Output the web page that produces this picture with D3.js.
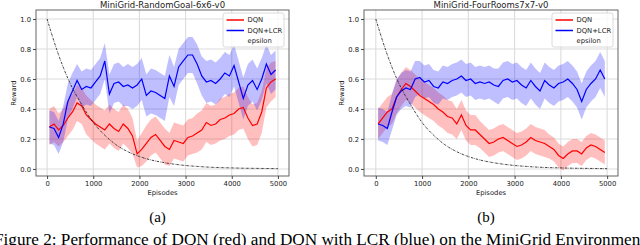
<!DOCTYPE html>
<html>
<head>
<meta charset="utf-8">
<script src="https://cdn.jsdelivr.net/npm/d3@7"></script>
<style>
  html, body { margin: 0; padding: 0; background: #fff; overflow: hidden; }
  svg { display: block; }
  text { font-family: "DejaVu Sans", sans-serif; fill: #222; }
  .serif { font-family: "Liberation Serif", "Times New Roman", serif; fill: #000; }
</style>
</head>
<body>
<div id="chart"></div>
<script>
// episodes at which the smoothed rewards are read
const episodes = [50, 150, 250, 350, 450, 550, 650, 750, 850, 950,
  1050, 1150, 1250, 1350, 1450, 1550, 1650, 1750, 1850, 1950,
  2050, 2150, 2250, 2350, 2450, 2550, 2650, 2750, 2850, 2950,
  3050, 3150, 3250, 3350, 3450, 3550, 3650, 3750, 3850, 3950,
  4050, 4150, 4250, 4350, 4450, 4550, 4650, 4750, 4850, 4950]

// (a) RandomGoal-6x6
const goalDqn = [0.28, 0.30, 0.26, 0.29, 0.34, 0.38, 0.44, 0.42, 0.36, 0.33,
  0.30, 0.28, 0.26, 0.30, 0.27, 0.25, 0.30, 0.27, 0.22, 0.10,
  0.13, 0.17, 0.21, 0.23, 0.19, 0.15, 0.13, 0.19, 0.18, 0.17,
  0.21, 0.22, 0.24, 0.26, 0.31, 0.29, 0.30, 0.33, 0.34, 0.36,
  0.37, 0.40, 0.41, 0.34, 0.29, 0.30, 0.38, 0.54, 0.58, 0.60]
const goalDqnSpread = [0.12, 0.12, 0.11, 0.11, 0.12, 0.12, 0.12, 0.12, 0.13, 0.13,
  0.13, 0.13, 0.13, 0.13, 0.13, 0.13, 0.13, 0.13, 0.12, 0.09,
  0.11, 0.12, 0.12, 0.12, 0.12, 0.12, 0.11, 0.12, 0.12, 0.12,
  0.12, 0.12, 0.13, 0.13, 0.13, 0.13, 0.13, 0.14, 0.14, 0.14,
  0.14, 0.14, 0.14, 0.14, 0.14, 0.14, 0.14, 0.13, 0.13, 0.12]
const goalLcr = [0.28, 0.27, 0.21, 0.30, 0.45, 0.52, 0.59, 0.53, 0.55, 0.54,
  0.58, 0.62, 0.72, 0.50, 0.57, 0.58, 0.55, 0.56, 0.54, 0.56,
  0.60, 0.49, 0.52, 0.51, 0.49, 0.47, 0.62, 0.55, 0.68, 0.72,
  0.76, 0.76, 0.70, 0.62, 0.58, 0.59, 0.57, 0.60, 0.64, 0.62,
  0.69, 0.58, 0.47, 0.56, 0.59, 0.53, 0.60, 0.70, 0.63, 0.66]
const goalLcrSpread = [0.11, 0.11, 0.11, 0.12, 0.12, 0.12, 0.11, 0.12, 0.12, 0.12,
  0.12, 0.12, 0.12, 0.13, 0.13, 0.13, 0.13, 0.14, 0.14, 0.14,
  0.14, 0.14, 0.15, 0.15, 0.15, 0.15, 0.14, 0.13, 0.12, 0.12,
  0.12, 0.12, 0.13, 0.13, 0.14, 0.14, 0.14, 0.14, 0.14, 0.14,
  0.14, 0.14, 0.14, 0.14, 0.14, 0.14, 0.14, 0.13, 0.13, 0.13]

// (b) FourRooms7x7
const roomsDqn = [0.30, 0.34, 0.38, 0.40, 0.48, 0.53, 0.57, 0.55, 0.52, 0.49,
  0.47, 0.45, 0.43, 0.40, 0.38, 0.35, 0.34, 0.30, 0.36, 0.29,
  0.26, 0.26, 0.23, 0.20, 0.17, 0.18, 0.20, 0.21, 0.19, 0.17,
  0.15, 0.16, 0.18, 0.21, 0.19, 0.18, 0.17, 0.15, 0.13, 0.09,
  0.07, 0.10, 0.12, 0.12, 0.10, 0.14, 0.16, 0.15, 0.13, 0.11]
const roomsDqnSpread = [0.10, 0.10, 0.10, 0.10, 0.11, 0.11, 0.11, 0.11, 0.11, 0.11,
  0.11, 0.11, 0.11, 0.11, 0.11, 0.11, 0.11, 0.10, 0.10, 0.10,
  0.10, 0.10, 0.09, 0.09, 0.09, 0.09, 0.09, 0.09, 0.09, 0.09,
  0.09, 0.09, 0.09, 0.09, 0.09, 0.09, 0.09, 0.08, 0.08, 0.08,
  0.08, 0.08, 0.08, 0.08, 0.08, 0.08, 0.08, 0.08, 0.08, 0.08]
const roomsLcr = [0.30, 0.29, 0.27, 0.38, 0.48, 0.52, 0.54, 0.53, 0.60, 0.61,
  0.58, 0.59, 0.55, 0.54, 0.58, 0.57, 0.59, 0.60, 0.62, 0.59,
  0.60, 0.57, 0.58, 0.57, 0.58, 0.56, 0.55, 0.59, 0.60, 0.58,
  0.59, 0.56, 0.54, 0.59, 0.55, 0.52, 0.59, 0.56, 0.54, 0.57,
  0.58, 0.60, 0.57, 0.53, 0.45, 0.53, 0.57, 0.60, 0.66, 0.60]
const roomsLcrSpread = [0.11, 0.11, 0.11, 0.12, 0.12, 0.12, 0.12, 0.12, 0.12, 0.11,
  0.11, 0.11, 0.11, 0.11, 0.11, 0.11, 0.11, 0.11, 0.11, 0.11,
  0.11, 0.11, 0.11, 0.11, 0.11, 0.11, 0.12, 0.12, 0.12, 0.12,
  0.12, 0.12, 0.12, 0.12, 0.12, 0.12, 0.12, 0.12, 0.12, 0.12,
  0.12, 0.12, 0.12, 0.12, 0.12, 0.12, 0.12, 0.12, 0.12, 0.12]

// exploration rate, same schedule in both runs
const epsilonEpisodes = [0, 250, 500, 750, 1000, 1250, 1500, 1750, 2000, 2250, 2500,
  2750, 3000, 3250, 3500, 3750, 4000, 4250, 4500, 4750, 5000]
const epsilon = [1.0, 0.76, 0.57, 0.43, 0.31, 0.225, 0.16, 0.115, 0.083, 0.06, 0.044,
  0.032, 0.023, 0.017, 0.012, 0.009, 0.007, 0.005, 0.004, 0.003, 0.002]

const xTicks = [0, 1000, 2000, 3000, 4000, 5000]
const yTicks = [0.0, 0.2, 0.4, 0.6, 0.8, 1.0]
const legendLabels = ["DQN", "DQN+LCR", "epsilon"]

const W = 640, H = 245
const svg = d3.select("#chart").append("svg").attr("width", W).attr("height", H)

function drawPanel(p) {
  const x = d3.scaleLinear().domain(p.xDomain).range([p.left, p.right])
  const y = d3.scaleLinear().domain([-0.047, 1.06]).range([176, 10])
  const g = svg.append("g")

  // grid
  g.selectAll(".gx").data(xTicks).enter().append("line")
    .attr("x1", d => x(d)).attr("x2", d => x(d))
    .attr("y1", y.range()[0]).attr("y2", y.range()[1])
    .attr("stroke", "#dcdcdc").attr("stroke-width", 1.1)
  g.selectAll(".gy").data(yTicks).enter().append("line")
    .attr("y1", d => y(d)).attr("y2", d => y(d))
    .attr("x1", p.left).attr("x2", p.right)
    .attr("stroke", "#dcdcdc").attr("stroke-width", 1.1)

  const series = [
    { mean: p.dqn, spread: p.dqnSpread, color: "#ff0000" },
    { mean: p.lcr, spread: p.lcrSpread, color: "#0000ff" }
  ]

  const area = d3.area()
    .x(d => x(d.ep)).y0(d => y(d.lo)).y1(d => y(d.hi))
  const line = d3.line().x(d => x(d.ep)).y(d => y(d.v))

  series.forEach(s => {
    const rows = episodes.map((ep, i) => ({
      ep, v: s.mean[i], lo: s.mean[i] - s.spread[i], hi: s.mean[i] + s.spread[i]
    }))
    g.append("path").attr("d", area(rows))
      .attr("fill", s.color).attr("fill-opacity", 0.25)
    s.rows = rows
  })
  series.forEach(s => {
    g.append("path").attr("d", line(s.rows))
      .attr("fill", "none").attr("stroke", s.color).attr("stroke-width", 1.2)
  })

  const epsLine = d3.line().curve(d3.curveMonotoneX)
    .x((d, i) => x(epsilonEpisodes[i])).y(d => y(d))
  g.append("path").attr("d", epsLine(epsilon))
    .attr("fill", "none").attr("stroke", "#111").attr("stroke-width", 0.8)
    .attr("stroke-dasharray", "2.4,1,0.6,1")

  // frame
  g.append("rect")
    .attr("x", p.left).attr("y", 10)
    .attr("width", p.right - p.left).attr("height", 166)
    .attr("fill", "none").attr("stroke", "#555").attr("stroke-width", 0.9)

  // axes
  const xAxis = d3.axisBottom(x).tickValues(xTicks).tickSize(3).tickPadding(2)
    .tickFormat(d3.format("d"))
  const gx = g.append("g").attr("transform", "translate(0,176)").call(xAxis)
  gx.select(".domain").remove()
  gx.selectAll("line").attr("stroke", "#444")
  gx.selectAll("text").attr("font-size", 6.8).attr("fill", "#222")
    .attr("font-family", "DejaVu Sans")

  const yAxis = d3.axisLeft(y).tickValues(yTicks).tickSize(3).tickPadding(2)
    .tickFormat(d3.format(".1f"))
  const gy = g.append("g").attr("transform", `translate(${p.left},0)`).call(yAxis)
  gy.select(".domain").remove()
  gy.selectAll("line").attr("stroke", "#444")
  gy.selectAll("text").attr("font-size", 6.8).attr("fill", "#222")
    .attr("font-family", "DejaVu Sans")

  const cx = (p.left + p.right) / 2
  g.append("text").attr("x", cx).attr("y", 8).attr("text-anchor", "middle")
    .attr("font-size", 8.5).text(p.title)
  g.append("text").attr("x", cx).attr("y", 194.5).attr("text-anchor", "middle")
    .attr("font-size", 6.8).text("Episodes")
  g.append("text")
    .attr("transform", `translate(${p.left - 20},93) rotate(-90)`)
    .attr("text-anchor", "middle").attr("font-size", 6.8).text("Reward")

  // legend
  const lx = p.right - 66
  const lg = g.append("g").attr("transform", `translate(${lx},13)`)
  lg.append("rect").attr("width", 61).attr("height", 34).attr("rx", 2)
    .attr("fill", "#fff").attr("fill-opacity", 0.8)
    .attr("stroke", "#d0d0d0").attr("stroke-width", 0.8)
  const legendColors = ["#ff0000", "#0000ff", "#111"]
  legendLabels.forEach((lab, i) => {
    const ly = 7 + i * 10.5
    if (i < 2) {
      lg.append("line").attr("x1", 3.5).attr("x2", 21).attr("y1", ly).attr("y2", ly)
        .attr("stroke", legendColors[i]).attr("stroke-width", 1.5)
    }
    lg.append("text").attr("x", 24.5).attr("y", ly + 2.4)
      .attr("font-size", 6.8).text(lab)
  })

  svg.append("text").attr("class", "serif").attr("x", cx - 5).attr("y", 222)
    .attr("text-anchor", "middle").attr("font-size", 15).text(p.tag)
}

drawPanel({
  left: 36, right: 289, xDomain: [-240, 5240],
  title: "MiniGrid-RandomGoal-6x6-v0", tag: "(a)",
  dqn: goalDqn, dqnSpread: goalDqnSpread, lcr: goalLcr, lcrSpread: goalLcrSpread
})
drawPanel({
  left: 364, right: 618, xDomain: [-255, 5235],
  title: "MiniGrid-FourRooms7x7-v0", tag: "(b)",
  dqn: roomsDqn, dqnSpread: roomsDqnSpread, lcr: roomsLcr, lcrSpread: roomsLcrSpread
})

svg.append("text").attr("class", "serif").attr("x", -6).attr("y", 245)
  .attr("font-size", 17.2)
  .text("Figure 2: Performance of DQN (red) and DQN with LCR (blue) on the MiniGrid Environment")
</script>
</body>
</html>
